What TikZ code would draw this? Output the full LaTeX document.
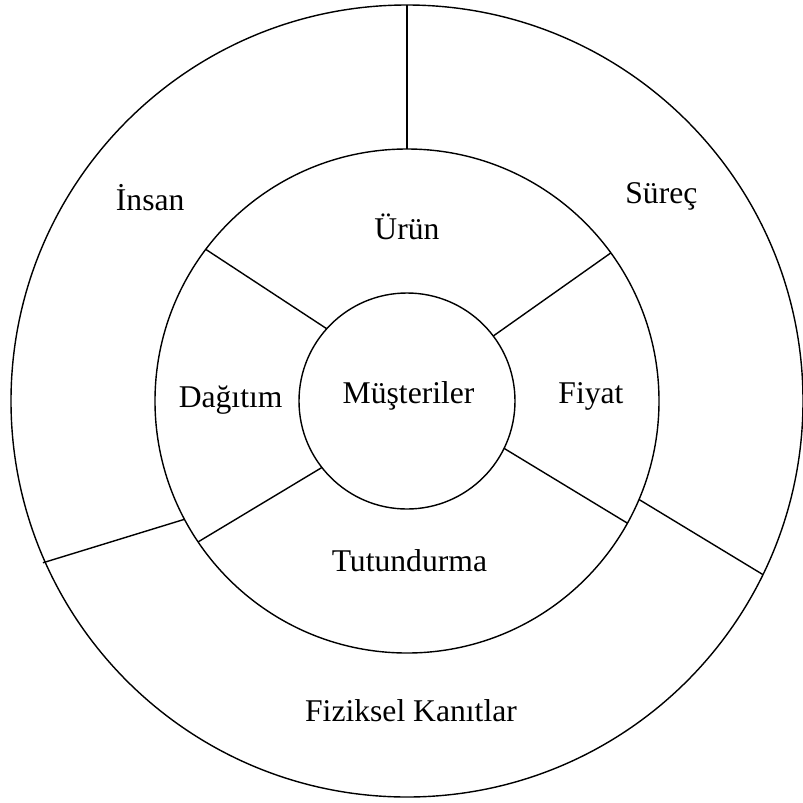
\documentclass[tikz,border=0pt]{standalone}
\usepackage{fontspec}
\setmainfont{Liberation Serif}
\usepackage{tikz}

\begin{document}
\begin{tikzpicture}[
		halka/.style={draw, circle, line width=1pt, inner sep=0pt, outer sep=0pt},
		etiket/.style={anchor=base, inner sep=0pt, font=\fontsize{22.5}{27}\selectfont},
		ayrac/.style={line width=1pt}
	]
		\useasboundingbox (-10.175,-10.025) rectangle (9.9,10.025);

		\node[halka, minimum size=19.8cm] (genis) at (0,0) {};

		\node[halka, minimum size=12.6cm] (karma) at (0,0) {};

		\node[halka, minimum size=5.4cm] (cekirdek) at (0,0) {};


		\node[etiket] (musteriler) at (0.04,-0.06) {M\"u\c{s}teriler};

		\node[etiket] (urun) at (0,4.03) {\"Ur\"un};

		\node[etiket] (fiyat) at (4.6,-0.06) {Fiyat};

		\node[etiket] (dagitim) at (-4.41,-0.15) {Da\u{g}\i t\i m};

		\node[etiket] (tutundurma) at (0.06,-4.26) {Tutundurma};

		\node[etiket] (insan) at (-6.42,4.77) {\.Insan};

		\node[etiket] (surec) at (6.36,4.93) {S\"ure\c{c}};

		\node[etiket] (kanitlar) at (0.1,-8.02) {Fiziksel Kan\i tlar};


		\draw[ayrac] (cekirdek.138.7) -- (karma.143);
		\draw[ayrac] (cekirdek.37) -- (karma.36.5);
		\draw[ayrac] (cekirdek.218.6) -- (karma.214.2);
		\draw[ayrac] (cekirdek.334.8) -- (karma.331.8);

		\draw[ayrac] (karma.90) -- (genis.90);
		\draw[ayrac, shorten >=-0.06cm] (karma.208.3) -- (genis.204.7);
		\draw[ayrac] (karma.337) -- (genis.334.9);

	\end{tikzpicture}
\end{document}
